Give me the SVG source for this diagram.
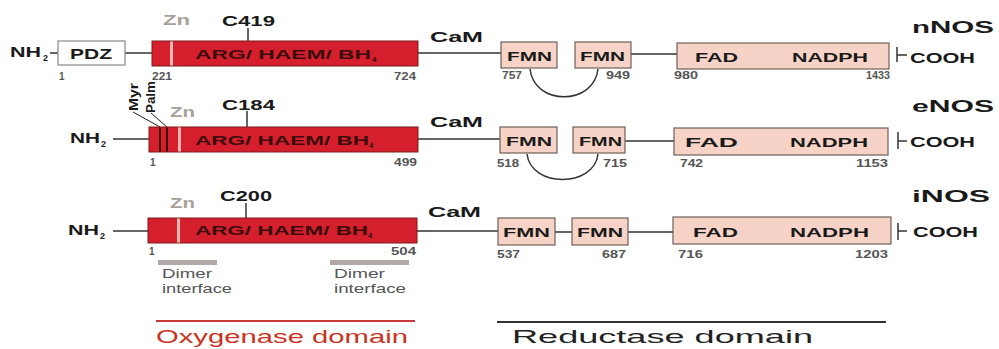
<svg xmlns="http://www.w3.org/2000/svg" width="999" height="349" viewBox="0 0 999 349">
<style>
text{font-family:"Liberation Sans",Arial,sans-serif;font-weight:bold;fill:#1a1a1a}
.red{fill:#d61f2c;stroke:#7d1a1a;stroke-width:1}
.pink{fill:#f6d3c6;stroke:#6f5f58;stroke-width:1.2}
.pdz{fill:#fff;stroke:#888;stroke-width:1.2}
.ln{stroke:#333;stroke-width:1.5;fill:none}
.zn{fill:#a8a09a;font-size:14px}
.zs{fill:#f2b7ae}
.dk{fill:#3a0a10}
.in{fill:#3b0d0d;font-size:13px}
.sub{font-size:9px}
.sub4{font-size:8px;fill:#3b0d0d}
.lbl{font-size:15px}
.nos{font-size:17px}
.dom{font-size:13px}
.num{font-size:10px;fill:#555}
.co{font-size:14px}
.dim{font-size:13px;font-weight:normal;fill:#555}
.bar{fill:#b3a9a9}
.rot{font-size:12px}
</style>

<g id="connectors">
  <!-- nNOS -->
  <line class="ln" x1="50" y1="53" x2="58" y2="53"/>
  <line class="ln" x1="125" y1="53" x2="152" y2="53"/>
  <line class="ln" x1="248" y1="28" x2="248" y2="41"/>
  <line class="ln" x1="418" y1="53" x2="501" y2="53"/>
  <line class="ln" x1="631" y1="54" x2="677" y2="54"/>
  <line class="ln" x1="897" y1="47" x2="897" y2="62"/>
  <line class="ln" x1="897" y1="55" x2="907" y2="55"/>
  <path class="ln" d="M530,69 C534,106 594,106 598,69"/>
  <!-- eNOS -->
  <line class="ln" x1="113" y1="139" x2="149" y2="139"/>
  <line class="ln" x1="247" y1="111" x2="247" y2="127"/>
  <line class="ln" x1="418" y1="139" x2="500" y2="139"/>
  <line class="ln" x1="625" y1="141" x2="674" y2="141"/>
  <line class="ln" x1="898" y1="132" x2="898" y2="149"/>
  <line class="ln" x1="898" y1="141" x2="907" y2="141"/>
  <path class="ln" d="M527,154 C531,188 594,188 598,154"/>
  <line stroke="#222" stroke-width="1" x1="133" y1="112" x2="160" y2="127"/>
  <line stroke="#222" stroke-width="1" x1="151" y1="113" x2="167" y2="127"/>
  <!-- iNOS -->
  <line class="ln" x1="113" y1="231" x2="148" y2="231"/>
  <line class="ln" x1="246" y1="203" x2="246" y2="218"/>
  <line class="ln" x1="417" y1="231" x2="498" y2="231"/>
  <line class="ln" x1="555" y1="232" x2="572" y2="232"/>
  <line class="ln" x1="628" y1="232" x2="673" y2="232"/>
  <line class="ln" x1="898" y1="223" x2="898" y2="240"/>
  <line class="ln" x1="898" y1="231" x2="907" y2="231"/>
</g>

<!-- nNOS row -->
<g id="nNOS-label"><text class="nos" x="912" y="33" textLength="82" lengthAdjust="spacingAndGlyphs">nNOS</text></g>
<g id="nNOS-NH2"><text class="co" x="10" y="57" textLength="31" lengthAdjust="spacingAndGlyphs">NH</text><text class="sub" x="43" y="61">2</text></g>
<g id="nNOS-PDZ">
  <rect class="pdz" x="58" y="41" width="67" height="24"/>
  <text class="co" x="70" y="59" textLength="42" lengthAdjust="spacingAndGlyphs">PDZ</text>
  <text class="num" x="59" y="80">1</text>
</g>
<g id="nNOS-oxy">
  <rect class="red" x="152" y="41" width="266" height="25"/>
  <rect class="zs" x="170" y="41.5" width="3" height="24"/>
  <text class="in" x="195" y="59" textLength="176" lengthAdjust="spacingAndGlyphs">ARG/ HAEM/ BH</text>
  <text class="sub4" x="372" y="62">4</text>
  <text class="zn" x="163" y="25" textLength="27" lengthAdjust="spacingAndGlyphs">Zn</text>
  <text class="lbl" x="222" y="26" textLength="53" lengthAdjust="spacingAndGlyphs">C419</text>
  <text class="num" x="152" y="80" textLength="20" lengthAdjust="spacingAndGlyphs">221</text>
  <text class="num" x="394" y="80" textLength="22" lengthAdjust="spacingAndGlyphs">724</text>
</g>
<g id="nNOS-CaM"><text class="lbl" x="430" y="42" textLength="53" lengthAdjust="spacingAndGlyphs">CaM</text></g>
<g id="nNOS-FMN1">
  <rect class="pink" x="501" y="42" width="56" height="26"/>
  <text class="dom" x="507" y="61" textLength="45" lengthAdjust="spacingAndGlyphs">FMN</text>
  <text class="num" x="502" y="79" textLength="20" lengthAdjust="spacingAndGlyphs">757</text>
</g>
<g id="nNOS-FMN2">
  <rect class="pink" x="575" y="42" width="56" height="26"/>
  <text class="dom" x="580" y="61" textLength="45" lengthAdjust="spacingAndGlyphs">FMN</text>
  <text class="num" x="606" y="79" textLength="24" lengthAdjust="spacingAndGlyphs">949</text>
</g>
<g id="nNOS-FAD">
  <rect class="pink" x="677" y="43" width="212" height="26"/>
  <text class="dom" x="695" y="62" textLength="43" lengthAdjust="spacingAndGlyphs">FAD</text>
  <text class="dom" x="792" y="62" textLength="76" lengthAdjust="spacingAndGlyphs">NADPH</text>
  <text class="num" x="674" y="79" textLength="24" lengthAdjust="spacingAndGlyphs">980</text>
  <text class="num" x="866" y="79" textLength="24" lengthAdjust="spacingAndGlyphs">1433</text>
</g>
<g id="nNOS-COOH"><text class="co" x="910" y="63" textLength="65" lengthAdjust="spacingAndGlyphs">COOH</text></g>

<!-- eNOS row -->
<g id="eNOS-label"><text class="nos" x="912" y="112" textLength="82" lengthAdjust="spacingAndGlyphs">eNOS</text></g>
<g id="eNOS-NH2"><text class="co" x="70" y="143" textLength="30" lengthAdjust="spacingAndGlyphs">NH</text><text class="sub" x="101" y="147">2</text></g>
<g id="eNOS-oxy">
  <rect class="red" x="149" y="127" width="269" height="25"/>
  <rect class="dk" x="159" y="127.5" width="2" height="24"/>
  <rect class="dk" x="166" y="127.5" width="2" height="24"/>
  <rect class="zs" x="178" y="127.5" width="3" height="24"/>
  <text class="in" x="195" y="145" textLength="174" lengthAdjust="spacingAndGlyphs">ARG/ HAEM/ BH</text>
  <text class="sub4" x="369" y="148">4</text>
  <text class="rot" transform="translate(138,111) rotate(-90)" textLength="28" lengthAdjust="spacingAndGlyphs">Myr</text>
  <text class="rot" transform="translate(155,113) rotate(-90)" textLength="32" lengthAdjust="spacingAndGlyphs">Palm</text>
  <text class="zn" x="170" y="117" textLength="25" lengthAdjust="spacingAndGlyphs">Zn</text>
  <text class="lbl" x="222" y="110" textLength="53" lengthAdjust="spacingAndGlyphs">C184</text>
  <text class="num" x="150" y="166">1</text>
  <text class="num" x="394" y="166" textLength="23" lengthAdjust="spacingAndGlyphs">499</text>
</g>
<g id="eNOS-CaM"><text class="lbl" x="430" y="127" textLength="53" lengthAdjust="spacingAndGlyphs">CaM</text></g>
<g id="eNOS-FMN1">
  <rect class="pink" x="500" y="127" width="57" height="26"/>
  <text class="dom" x="506" y="146" textLength="46" lengthAdjust="spacingAndGlyphs">FMN</text>
  <text class="num" x="497" y="167" textLength="22" lengthAdjust="spacingAndGlyphs">518</text>
</g>
<g id="eNOS-FMN2">
  <rect class="pink" x="573" y="127" width="52" height="26"/>
  <text class="dom" x="579" y="146" textLength="43" lengthAdjust="spacingAndGlyphs">FMN</text>
  <text class="num" x="603" y="167" textLength="24" lengthAdjust="spacingAndGlyphs">715</text>
</g>
<g id="eNOS-FAD">
  <rect class="pink" x="674" y="128" width="214" height="27"/>
  <text class="dom" x="685" y="147" textLength="53" lengthAdjust="spacingAndGlyphs">FAD</text>
  <text class="dom" x="790" y="147" textLength="78" lengthAdjust="spacingAndGlyphs">NADPH</text>
  <text class="num" x="680" y="167" textLength="23" lengthAdjust="spacingAndGlyphs">742</text>
  <text class="num" x="856" y="167" textLength="32" lengthAdjust="spacingAndGlyphs">1153</text>
</g>
<g id="eNOS-COOH"><text class="co" x="910" y="147" textLength="65" lengthAdjust="spacingAndGlyphs">COOH</text></g>

<!-- iNOS row -->
<g id="iNOS-label"><text class="nos" x="912" y="202" textLength="78" lengthAdjust="spacingAndGlyphs">iNOS</text></g>
<g id="iNOS-NH2"><text class="co" x="68" y="235" textLength="31" lengthAdjust="spacingAndGlyphs">NH</text><text class="sub" x="100" y="239">2</text></g>
<g id="iNOS-oxy">
  <rect class="red" x="148" y="218" width="269" height="25"/>
  <rect class="zs" x="177" y="218.5" width="3" height="24"/>
  <text class="in" x="195" y="235" textLength="173" lengthAdjust="spacingAndGlyphs">ARG/ HAEM/ BH</text>
  <text class="sub4" x="368" y="238">4</text>
  <text class="zn" x="170" y="208" textLength="25" lengthAdjust="spacingAndGlyphs">Zn</text>
  <text class="lbl" x="220" y="201" textLength="52" lengthAdjust="spacingAndGlyphs">C200</text>
  <text class="num" x="149" y="255">1</text>
  <text class="num" x="391" y="255" textLength="25" lengthAdjust="spacingAndGlyphs">504</text>
</g>
<g id="iNOS-dimer1">
  <rect class="bar" x="158" y="260" width="59" height="5"/>
  <text class="dim" x="162" y="278" textLength="50" lengthAdjust="spacingAndGlyphs">Dimer</text>
  <text class="dim" x="162" y="293" textLength="70" lengthAdjust="spacingAndGlyphs">interface</text>
</g>
<g id="iNOS-dimer2">
  <rect class="bar" x="330" y="260" width="79" height="5"/>
  <text class="dim" x="334" y="278" textLength="51" lengthAdjust="spacingAndGlyphs">Dimer</text>
  <text class="dim" x="334" y="293" textLength="72" lengthAdjust="spacingAndGlyphs">interface</text>
</g>
<g id="iNOS-CaM"><text class="lbl" x="428" y="217" textLength="53" lengthAdjust="spacingAndGlyphs">CaM</text></g>
<g id="iNOS-FMN1">
  <rect class="pink" x="498" y="218" width="57" height="27"/>
  <text class="dom" x="503" y="237" textLength="47" lengthAdjust="spacingAndGlyphs">FMN</text>
  <text class="num" x="497" y="258" textLength="23" lengthAdjust="spacingAndGlyphs">537</text>
</g>
<g id="iNOS-FMN2">
  <rect class="pink" x="572" y="218" width="56" height="27"/>
  <text class="dom" x="577" y="237" textLength="46" lengthAdjust="spacingAndGlyphs">FMN</text>
  <text class="num" x="602" y="258" textLength="24" lengthAdjust="spacingAndGlyphs">687</text>
</g>
<g id="iNOS-FAD">
  <rect class="pink" x="673" y="217" width="218" height="27"/>
  <text class="dom" x="693" y="237" textLength="45" lengthAdjust="spacingAndGlyphs">FAD</text>
  <text class="dom" x="790" y="237" textLength="79" lengthAdjust="spacingAndGlyphs">NADPH</text>
  <text class="num" x="678" y="258" textLength="25" lengthAdjust="spacingAndGlyphs">716</text>
  <text class="num" x="855" y="258" textLength="33" lengthAdjust="spacingAndGlyphs">1203</text>
</g>
<g id="iNOS-COOH"><text class="co" x="913" y="237" textLength="65" lengthAdjust="spacingAndGlyphs">COOH</text></g>

<!-- domain labels -->
<g id="oxygenase-domain">
  <line x1="156" y1="321" x2="415" y2="321" stroke="#c8383a" stroke-width="2"/>
  <text x="156" y="343" font-size="19" style="fill:#cc3322;font-weight:normal" textLength="252" lengthAdjust="spacingAndGlyphs">Oxygenase domain</text>
</g>
<g id="reductase-domain">
  <line x1="497" y1="322" x2="886" y2="322" stroke="#333" stroke-width="2"/>
  <text x="512" y="343" font-size="19" style="fill:#222;font-weight:normal" textLength="301" lengthAdjust="spacingAndGlyphs">Reductase domain</text>
</g>
</svg>
